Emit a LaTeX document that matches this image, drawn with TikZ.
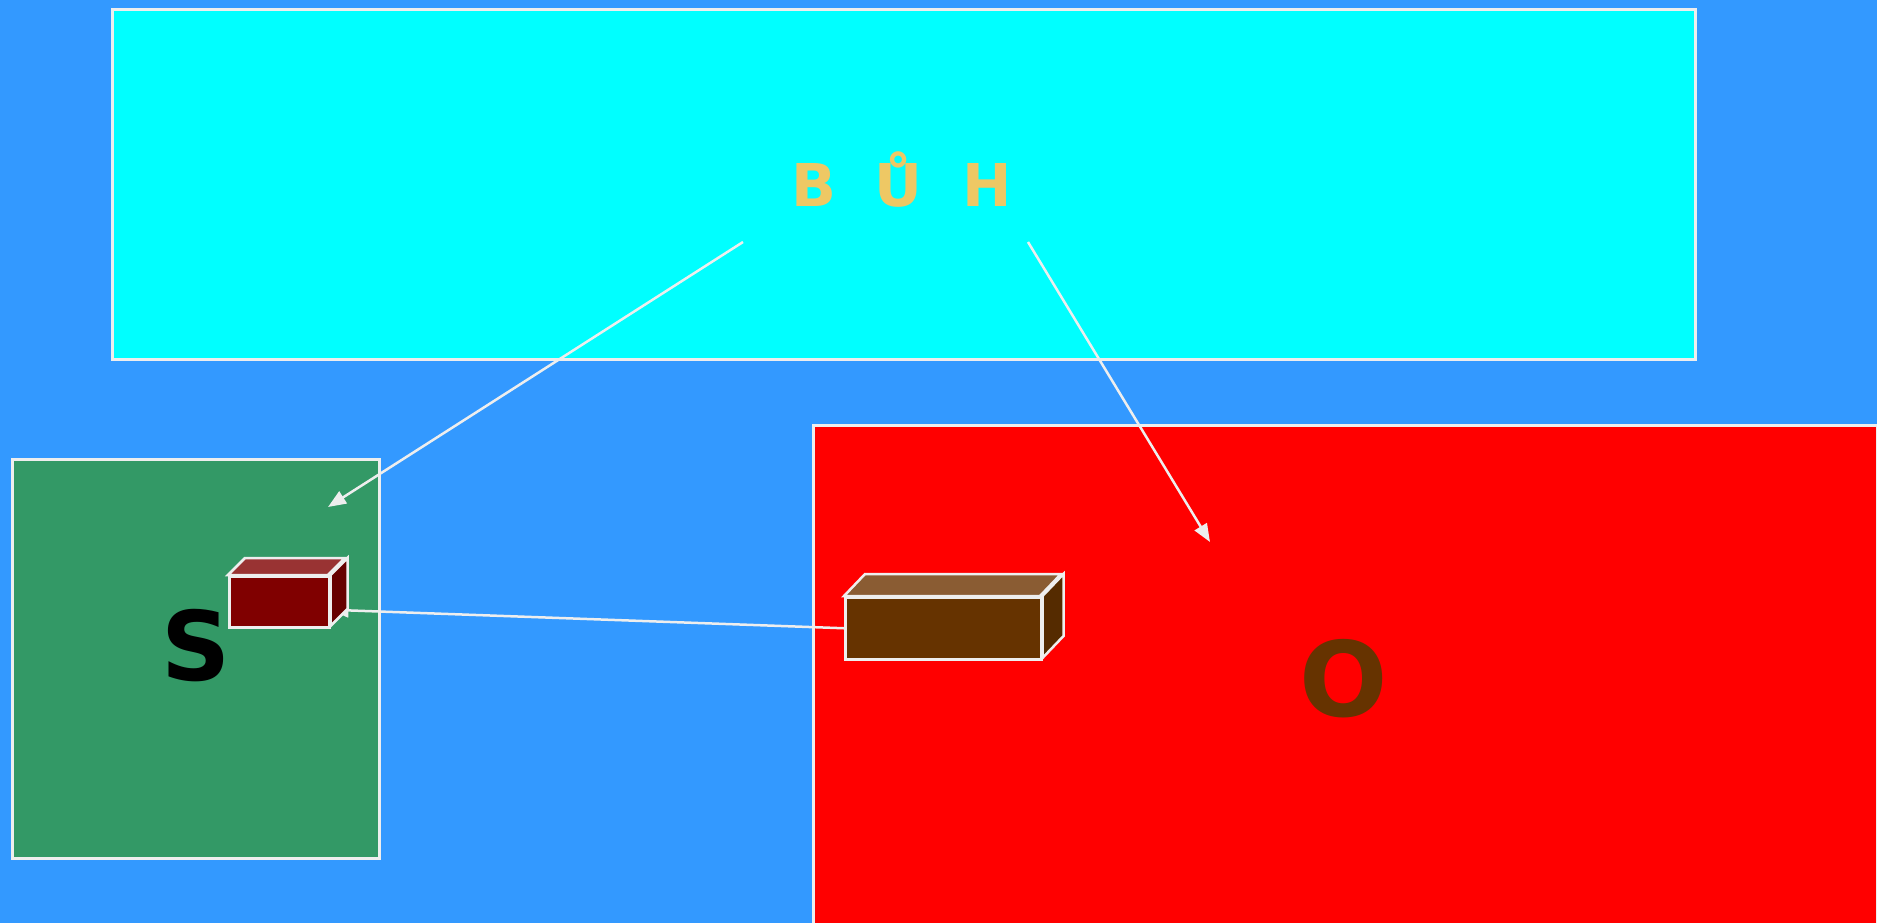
\documentclass[tikz,border=0pt]{standalone}
\usepackage{fontspec}
\setmainfont{DejaVu Sans}
\usepackage{tikz}
\usetikzlibrary{positioning,arrows.meta}
\definecolor{skyblue}{HTML}{3399FF}
\definecolor{panelcyan}{HTML}{00FFFF}
\definecolor{panelgreen}{HTML}{339966}
\definecolor{panelred}{HTML}{FF0000}
\definecolor{edgegray}{HTML}{EEEEEE}
\definecolor{titlegold}{HTML}{EEC864}
\definecolor{maroonfront}{HTML}{800000}
\definecolor{maroontop}{HTML}{993333}
\definecolor{maroonside}{HTML}{660000}
\definecolor{brownfront}{HTML}{663300}
\definecolor{browntop}{HTML}{8A5C33}
\definecolor{brownside}{HTML}{552B00}

\begin{document}
\begin{tikzpicture}[x=1pt, y=-1pt, font=\bfseries]
    \tikzstyle{panel}=[draw=edgegray, line width=2.5pt, inner sep=0pt,
                       anchor=north west]
    \tikzstyle{front}=[draw=edgegray, line width=2.5pt, inner sep=0pt,
                       anchor=north west]
    \tikzstyle{face}=[draw=edgegray, line width=2.5pt]
    \tikzstyle{arrow}=[draw=edgegray, line width=2.5pt,
                       -{Triangle[length=18pt, width=14pt]}]

    \useasboundingbox (0,0) rectangle (1877,922);
    \fill[skyblue] (-6,-6) rectangle (1883,928);

    % the three areas
    \node[panel, fill=panelcyan, minimum width=1583pt, minimum height=350pt]
         (top) at (111,8) {};
    \node[panel, fill=panelgreen, minimum width=367pt, minimum height=399pt]
         (left) at (11,458) {};
    \node[panel, fill=panelred, minimum width=1064pt, minimum height=520pt]
         (right) at (812,424) {};

    \node[text=titlegold, font=\fontsize{59}{59}\selectfont\bfseries, anchor=base]
         (title) at (902,206) {B\hspace{38pt}Ů\hspace{40pt}H};
    \node[font=\fontsize{96}{96}\selectfont\bfseries, anchor=base]
         (s) at (196,680) {S};
    \node[text=brownfront, font=\fontsize{104}{104}\selectfont\bfseries, anchor=base]
         (o) at (1344,716) {O};

    \coordinate (a1) at (743,242);
    \coordinate (a1end) at (328,507);
    \coordinate (a2) at (1028,242);
    \coordinate (a2end) at (1210,542);
    \draw[arrow] (a1) -- (a1end);
    \draw[arrow] (a2) -- (a2end);

    % boxes
    \node[front, fill=maroonfront, minimum width=100pt, minimum height=51pt]
         (sbox) at (228,575) {};
    \node[front, fill=brownfront, minimum width=196pt, minimum height=62pt]
         (obox) at (844,596) {};

    \draw[arrow] (obox.west) -- ([yshift=-8pt]sbox.east);

    \draw[face, fill=maroontop] (sbox.north west) -- ++(17,-17) -- ++(100,0)
         -- ++(-17,17) -- cycle;
    \draw[face, fill=maroonside] (sbox.north east) -- ++(17,-17) -- ++(0,51)
         -- ++(-17,17) -- cycle;
    \draw[face, fill=browntop] (obox.north west) -- ++(21,-22) -- ++(196,0)
         -- ++(-21,22) -- cycle;
    \draw[face, fill=brownside] (obox.north east) -- ++(21,-22) -- ++(0,62)
         -- ++(-21,22) -- cycle;
  \end{tikzpicture}
\end{document}
